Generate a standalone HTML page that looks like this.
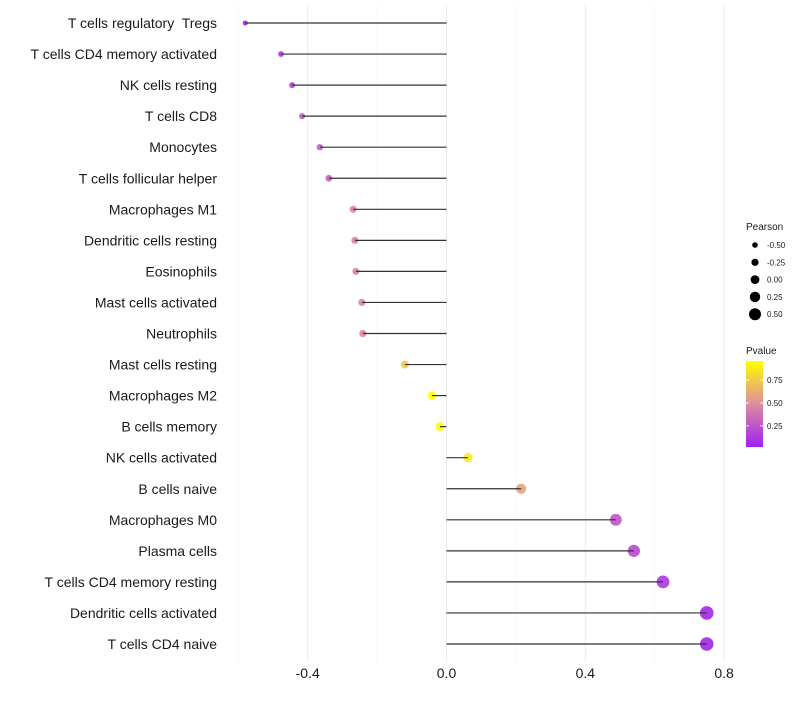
<!DOCTYPE html>
<html><head><meta charset="utf-8"><style>
body{margin:0;background:#fff;font-family:"Liberation Sans",sans-serif}
svg text{font-family:"Liberation Sans",sans-serif;white-space:pre}
</style></head><body>
<svg id="c" width="800" height="700"></svg>
<script>
const categories=["T cells regulatory  Tregs","T cells CD4 memory activated","NK cells resting","T cells CD8","Monocytes","T cells follicular helper","Macrophages M1","Dendritic cells resting","Eosinophils","Mast cells activated","Neutrophils","Mast cells resting","Macrophages M2","B cells memory","NK cells activated","B cells naive","Macrophages M0","Plasma cells","T cells CD4 memory resting","Dendritic cells activated","T cells CD4 naive"];
const pearson=[-0.58,-0.477,-0.445,-0.416,-0.365,-0.339,-0.269,-0.264,-0.261,-0.244,-0.241,-0.12,-0.042,-0.019,0.062,0.215,0.488,0.54,0.624,0.75,0.75];
const pvalues=[0.02,0.14,0.17,0.26,0.32,0.3,0.45,0.46,0.46,0.48,0.48,0.75,0.95,0.98,0.88,0.58,0.26,0.2,0.12,0.04,0.04];
const xTicks=[-0.4,0.0,0.4,0.8];
const xTickLabels=["-0.4","0.0","0.4","0.8"];
const sizeLegend=[-0.5,-0.25,0,0.25,0.5];
const sizeLegendLabels=["-0.50","-0.25","0.00","0.25","0.50"];
const pLegend=[0.25,0.5,0.75];

const NS="http://www.w3.org/2000/svg";
const svg=document.getElementById('c');
function el(t,a,p){const e=document.createElementNS(NS,t);for(const k in a)e.setAttribute(k,a[k]);(p||svg).appendChild(e);return e;}
const x=v=>446.5+v*347;
const y=i=>23+i*31.05;
const r=v=>Math.max(1.5,4.4+3.2*v);
const stops=[[0,[160,32,240]],[0.5,[222,140,160]],[1,[255,255,0]]];
const pMin=0.02,pMax=0.957;
function col(p){let t=(p-pMin)/(pMax-pMin);t=Math.max(0,Math.min(1,t));
 let a=stops[0],b=stops[1];if(t>0.5){a=stops[1];b=stops[2];}
 const u=(t-a[0])/(b[0]-a[0]);const c=a[1].map((v,k)=>Math.round(v+(b[1][k]-v)*u));return `rgb(${c})`;}
[-0.6,-0.2,0.2,0.6].forEach(v=>{const g=el('line',{x1:x(v),x2:x(v),y1:5,y2:662,stroke:'#f2f2f2','stroke-width':0.6});
});
xTicks.forEach((v,i)=>{const g=el('line',{x1:x(v),x2:x(v),y1:5,y2:662,stroke:'#ebebeb','stroke-width':1});

const t=el('text',{x:x(v),y:678,'text-anchor':'middle','font-size':14,fill:'#1a1a1a'});t.textContent=xTickLabels[i];
});
categories.forEach((c,i)=>{
 const t=el('text',{x:217,y:y(i)+5,'text-anchor':'end','font-size':14,fill:'#1a1a1a'});t.textContent=c;
 
 const d=el('circle',{cx:x(pearson[i]),cy:y(i),r:r(pearson[i]),fill:col(pvalues[i]),'fill-opacity':0.9});
 
 const l=el('line',{x1:x(0),x2:x(pearson[i]),y1:y(i),y2:y(i),stroke:'#333','stroke-width':1.2});
 
});
let tt=el('text',{x:746,y:230,'font-size':10,fill:'#1a1a1a'});tt.textContent='Pearson';

sizeLegend.forEach((v,i)=>{const cy=245+i*17.3;
 const d=el('circle',{cx:755,cy:cy,r:r(v),fill:'#000'});
 const t=el('text',{x:767,y:cy+3,'font-size':8,fill:'#1a1a1a'});t.textContent=sizeLegendLabels[i];
 });
tt=el('text',{x:746,y:354,'font-size':10,fill:'#1a1a1a'});tt.textContent='Pvalue';

const defs=el('defs',{});const lg=el('linearGradient',{id:'pg',x1:0,y1:1,x2:0,y2:0},defs);
stops.forEach(s=>el('stop',{offset:s[0],'stop-color':`rgb(${s[1]})`},lg));
const gb=el('rect',{x:746,y:361,width:17,height:86,fill:'url(#pg)'});

const py=p=>447-(p-pMin)/(pMax-pMin)*86;
pLegend.forEach(p=>{el('line',{x1:746,x2:749,y1:py(p),y2:py(p),stroke:'#fff','stroke-width':0.8});el('line',{x1:760,x2:763,y1:py(p),y2:py(p),stroke:'#fff','stroke-width':0.8});
 const t=el('text',{x:767,y:py(p)+3,'font-size':8,fill:'#1a1a1a'});t.textContent=p.toFixed(2);
 });
</script>
</body></html>
